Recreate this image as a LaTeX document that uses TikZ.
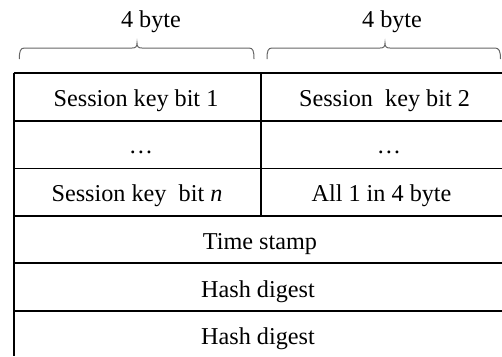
\documentclass[tikz,border=0pt]{standalone}
\usepackage{fontspec}
\setmainfont{Liberation Serif}
\begin{document}
\begin{tikzpicture}[x=1bp,y=-1bp,
  every node/.style={font=\fontsize{24.2bp}{29bp}\selectfont, inner sep=0pt, anchor=base},
  grid/.style={line width=1.6bp, black},
  bracepath/.style={line width=1bp, black!60}]
\useasboundingbox (0,0) rectangle (502,356);
% table lines
\draw[grid] (13.7,72.7) -- (502,72.7);
\draw[grid] (13.7,121) -- (502,121);
\draw[grid] (13.7,168.3) -- (502,168.3);
\draw[grid] (13.7,215.7) -- (502,215.7);
\draw[grid] (13.7,263) -- (502,263);
\draw[grid] (13.7,310.7) -- (502,310.7);
\draw[grid] (13.7,72.7) -- (13.7,356);
\draw[grid] (261,72.7) -- (261,215.7);
% braces
\draw[bracepath] (19.3,59) .. controls (19.3,51) and (20.5,48) .. (24.5,48) -- (132,48)
  .. controls (135.5,48) and (137,47) .. (137,43)
  .. controls (137,47) and (138.5,48) .. (142,48) -- (249,48)
  .. controls (253,48) and (254,51) .. (254,59);
\draw[bracepath] (267,59) .. controls (267,51) and (268,48) .. (272,48) -- (380,48)
  .. controls (383.5,48) and (385,47) .. (385,43)
  .. controls (385,47) and (386.5,48) .. (390,48) -- (495,48)
  .. controls (499,48) and (500.5,51) .. (500.5,59);
% labels
\node (b1) at (151,27) {4 byte};
\node (b2) at (392,27) {4 byte};
\node (k1) at (136,106) {Session key bit 1};
\node (k2) at (384.5,106) {Session\ \ key bit 2};
\node (d1) at (141,153.5) {…};
\node (d2) at (389,153.5) {…};
\node (kn) at (137,201) {Session key\ \ bit \textit{n}};
\node (all) at (381.5,201) {All 1 in 4 byte};
\node (ts) at (260,249.5) {Time stamp};
\node (h1) at (258,297.3) {Hash digest};
\node (h2) at (258,344) {Hash digest};
\end{tikzpicture}
\end{document}
